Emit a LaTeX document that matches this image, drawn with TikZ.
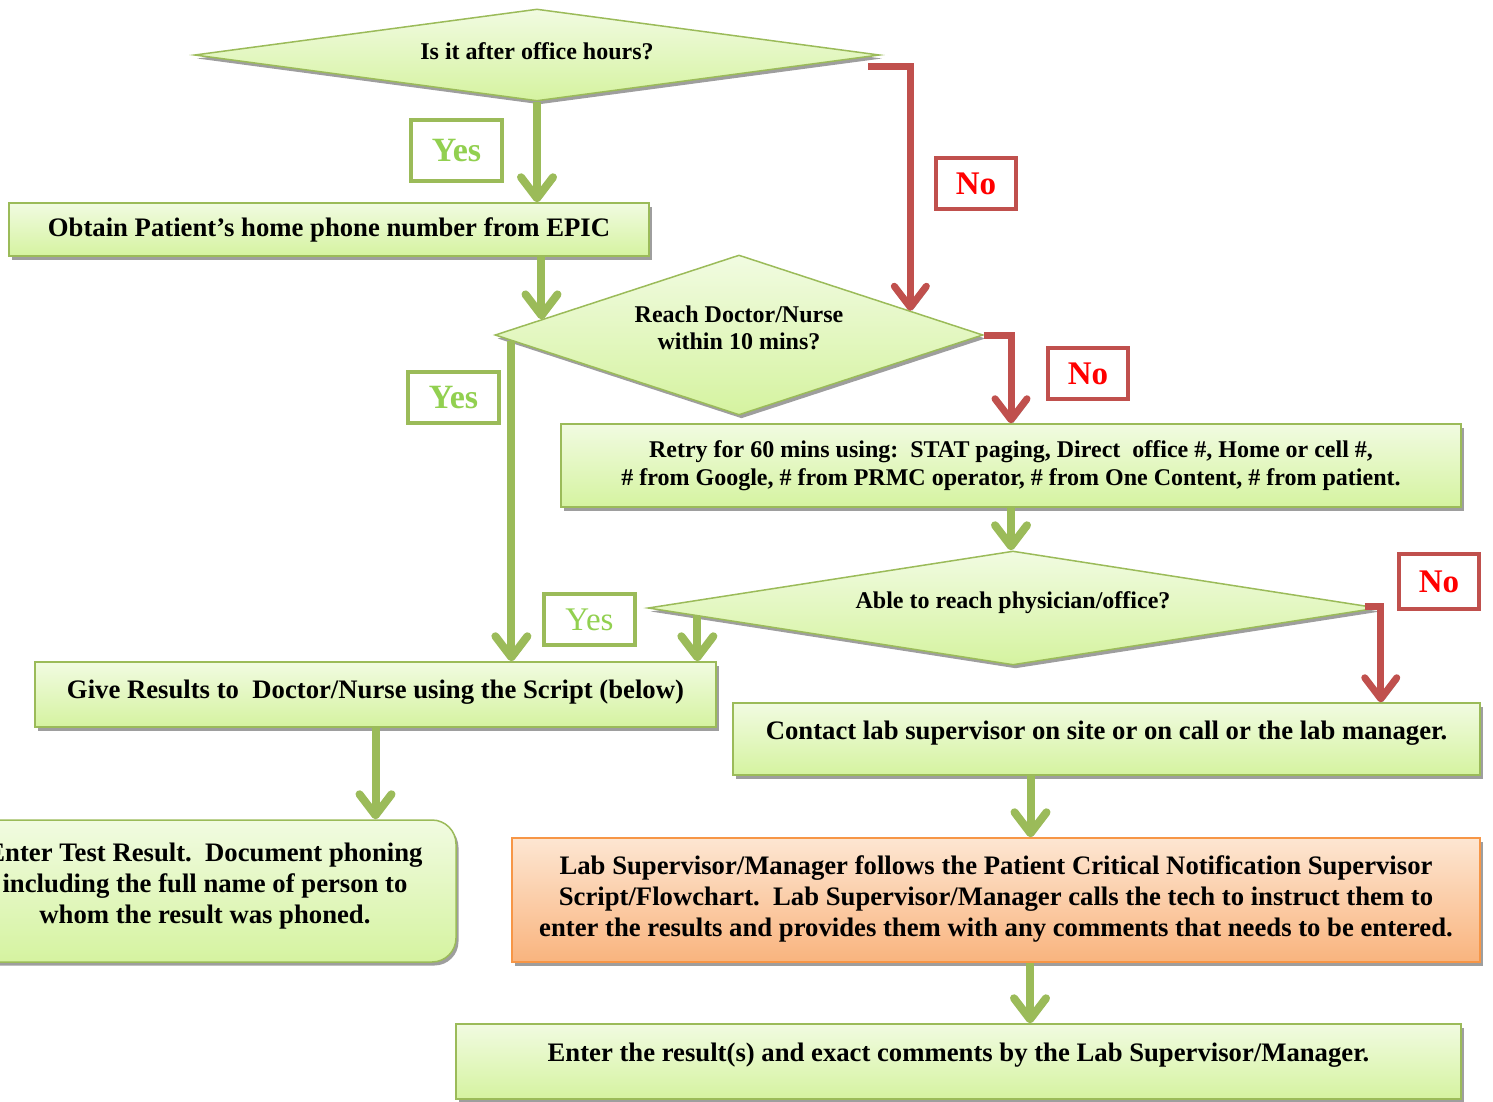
\documentclass[tikz,border=0pt]{standalone}
\usepackage{fontspec}
\setmainfont{Liberation Serif}
\usetikzlibrary{shapes.geometric,shadows,calc,arrows.meta}
\definecolor{grn}{HTML}{9BBB59}
\definecolor{gtop}{HTML}{F1FBE1}
\definecolor{gbot}{HTML}{D5F3A0}
\definecolor{otop}{HTML}{FDE6D2}
\definecolor{obot}{HTML}{F9B47E}
\definecolor{oline}{HTML}{F79646}
\definecolor{rline}{HTML}{C0504D}
\definecolor{yestxt}{HTML}{92D050}
\definecolor{notxt}{HTML}{FF0000}
\newcommand\shiftedtext[2]{\raisebox{#1}[\height][\depth]{\begin{tabular}{@{}c@{}}#2\end{tabular}}}
\tikzset{
  shad/.style={drop shadow={shadow xshift=2.5pt,shadow yshift=-3.5pt,fill=black!38,opacity=1}},
  gbox/.style={draw=grn, line width=1.5pt, top color=gtop, bottom color=gbot, shad,
    align=center, inner sep=0pt, font=\bfseries\fontsize{26.7}{31}\selectfont},
  obox/.style={gbox, draw=oline, top color=otop, bottom color=obot},
  dec/.style={diamond, gbox, font=\bfseries\fontsize{24}{27}\selectfont},
  retrybox/.style={gbox, font=\bfseries\fontsize{24}{28}\selectfont},
  yeslab/.style={draw=grn, line width=4pt, fill=white, inner sep=0pt, text=yestxt,
    minimum width=91pt, font=\bfseries\fontsize{34}{34}\selectfont},
  nolab/.style={draw=rline, line width=4pt, fill=white, inner sep=0pt, text=notxt,
    font=\bfseries\fontsize{33}{33}\selectfont, minimum width=80pt},
  ashad/.style={preaction={draw=black!38, transform canvas={xshift=2pt,yshift=-3pt}}},
  garr/.style={draw=grn, line width=8pt, ashad, -{Straight Barb[length=21pt,width=32pt,round]}},
  rarr/.style={draw=rline, line width=7pt, ashad, -{Straight Barb[length=21pt,width=32pt,round]}},
}
\begin{document}
\begin{tikzpicture}[x=1pt,y=-1pt]
\useasboundingbox (0,0) rectangle (1493,1101);
% decisions
\node[dec, shape aspect=7.45, minimum width=685pt, minimum height=92pt] (d1) at (537,55) {\shiftedtext{0.5pt}{Is it after office hours?}};
\node[dec, shape aspect=3.05, minimum width=488pt, minimum height=160pt] (d2) at (739,335) {\shiftedtext{4pt}{Reach Doctor/Nurse\\within 10 mins?}};
\node[dec, shape aspect=6.4, minimum width=730pt, minimum height=114pt] (d3) at (1013,608) {\shiftedtext{5pt}{Able to reach physician/office?}};
% boxes
\node[gbox, minimum width=640pt, minimum height=53pt] (b2) at (329,229.5) {Obtain Patient’s home phone number from EPIC};
\node[retrybox, minimum width=900pt, minimum height=83pt] (retry) at (1011,465.5) {Retry for 60 mins using:\ \ STAT paging, Direct\ \ office \#, Home or cell \#,\\\# from Google, \# from PRMC operator, \# from One Content, \# from patient.};
\node[gbox, minimum width=681pt, minimum height=65pt] (gr) at (375.5,694.5) {\shiftedtext{2pt}{Give Results to\ \ Doctor/Nurse using the Script (below)}};
\node[gbox, minimum width=747pt, minimum height=72pt] (contact) at (1106.5,739) {\shiftedtext{6pt}{Contact lab supervisor on site or on call or the lab manager.}};
\node[gbox, rounded corners=24pt, minimum width=502pt, minimum height=142pt] (enter) at (205,891) {\shiftedtext{4.5pt}{Enter Test Result.\ \ Document phoning\\including the full name of person to\\whom the result was phoned.}};
\node[obox, minimum width=968pt, minimum height=124pt] (orange) at (996,900) {\shiftedtext{0.5pt}{Lab Supervisor/Manager follows the Patient Critical Notification Supervisor\\Script/Flowchart.\ \ Lab Supervisor/Manager calls the tech to instruct them to\\enter the results and provides them with any comments that needs to be entered.}};
\node[gbox, minimum width=1005pt, minimum height=75pt] (final) at (958.5,1061.5) {\shiftedtext{6.5pt}{Enter the result(s) and exact comments by the Lab Supervisor/Manager.}};
% labels
\node[yeslab, minimum height=61pt] (y1) at (456.5,150.5) {Yes};
\node[yeslab, minimum height=51pt] (y2) at (453.5,397.5) {Yes};
\node[yeslab, minimum height=51pt, font=\fontsize{33}{33}\selectfont] (y3) at (589.5,619.5) {Yes};
\node[nolab, minimum height=51pt] (n1) at (976,183.5) {No};
\node[nolab, minimum height=51pt] (n2) at (1088,373.5) {No};
\node[nolab, minimum height=55pt] (n3) at (1439,581.5) {No};
% helper coordinates
\coordinate (c2) at ($(d2.west)!0.193!(d2.north)$);
\coordinate (c3) at ($(d2.west)!0.07!(d2.south)$);
\coordinate (c5) at ($(d3.west)!0.137!(d3.south)$);
\coordinate (c7) at ($(contact.south)+(-76,0)$);
\coordinate (c8) at ($(orange.south)+(34,0)$);
\coordinate (r1s) at ($(d1.east)+(-12,11)$);
\coordinate (r1e) at ($(d2.north)!0.70!(d2.east)$);
\coordinate (r3s) at ($(d3.east)+(-14,-2)$);
\coordinate (r3e) at ($(d3.east |- contact.north)+(2,0)$);
% connectors
\draw[garr] (d1.south) -- (d1.south |- b2.north);
\draw[garr] (c2 |- b2.south) -- (c2);
\draw[garr] (c3) -- (c3 |- gr.north);
\draw[garr] (retry.south) -- (retry.south |- d3.north);
\draw[garr] (c5) -- (c5 |- gr.north);
\draw[garr] (gr.south) -- (gr.south |- enter.north);
\draw[garr] (c7) -- (c7 |- orange.north);
\draw[garr] (c8) -- (c8 |- final.north);
\draw[rarr] (r1s) -| (r1e);
\draw[rarr] (d2.east) -| (retry.north);
\draw[rarr] (r3s) -| (r3e);
\end{tikzpicture}
\end{document}
